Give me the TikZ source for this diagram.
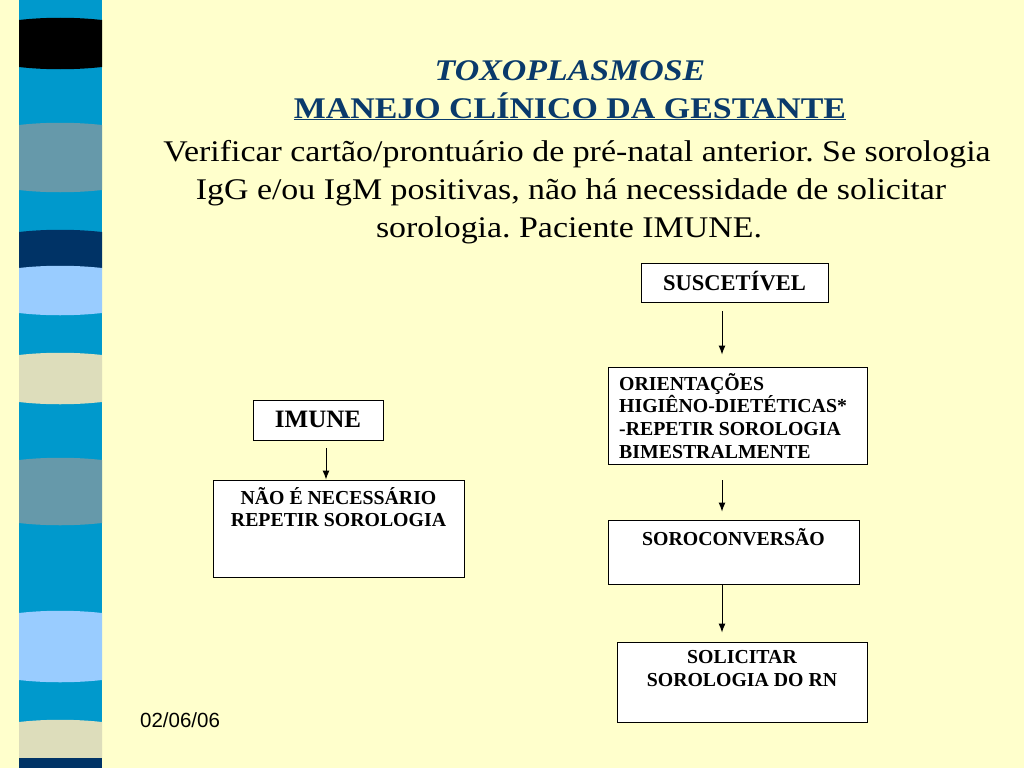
\documentclass[tikz,border=0pt]{standalone}
\usepackage{fontspec}
\setmainfont{Liberation Serif}
\newfontfamily\widefont[FakeStretch=1.13]{Liberation Serif}
\newfontfamily\datefont{Liberation Sans}
\usetikzlibrary{arrows.meta}
\frenchspacing
\definecolor{bgyellow}{HTML}{FFFFCC}
\definecolor{stripeblue}{HTML}{0099CC}
\definecolor{stripegray}{HTML}{6699AA}
\definecolor{stripenavy}{HTML}{003366}
\definecolor{stripelight}{HTML}{99CCFF}
\definecolor{stripebeige}{HTML}{DDDDBB}
\definecolor{titlenavy}{HTML}{0A3A6B}
\tikzset{
  boxnode/.style={draw=black, line width=0.9pt, fill=white, inner sep=0pt},
  boxtext/.style={font=\fontsize{19.8}{22.7}\selectfont\bfseries, inner sep=0pt, anchor=north},
  arr/.style={-{Latex[length=9pt,width=7pt]}, line width=1pt},
  headline/.style={font=\widefont\fontsize{30}{38}\selectfont, anchor=base, inner sep=0pt},
}
\newcommand{\band}[3]{% top, bottom, colour
  \fill[#3] (19,#1) .. controls (45,#1-3) and (75,#1-3) .. (102,#1) -- (102,#2) .. controls (75,#2+3) and (45,#2+3) .. (19,#2) -- cycle;}
\begin{document}
\begin{tikzpicture}[x=1pt,y=-1pt]
\useasboundingbox (0,0) rectangle (1024,768);
\fill[bgyellow] (0,0) rectangle (1024,768);
% stripe
\fill[stripeblue] (19,0) rectangle (102,768);
\band{20}{67}{black}
\band{125}{190}{stripegray}
\band{232}{268}{stripenavy}
\band{268}{313}{stripelight}
\band{355}{402}{stripebeige}
\band{460}{523}{stripegray}
\band{613}{680}{stripelight}
\band{722}{758}{stripebeige}
\fill[stripenavy] (19,758) rectangle (102,768);
% headings
\node[headline, font=\widefont\fontsize{30}{38}\selectfont\bfseries\itshape, text=titlenavy] (t1) at (570,80) {TOXOPLASMOSE};
\node[headline, font=\widefont\fontsize{30}{38}\selectfont\bfseries, text=titlenavy] (t2) at (570,118) {\underline{MANEJO CLÍNICO DA GESTANTE}};
\node[headline] (l1) at (577,161) {Verificar cartão/prontuário de pré-natal anterior. Se sorologia};
\node[headline] (l2) at (571,199) {IgG e/ou IgM positivas, não há necessidade de solicitar};
\node[headline] (l3) at (569,237) {sorologia. Paciente IMUNE.};
% boxes
\node[boxnode, minimum width=187pt, minimum height=39pt] (susc) at (734.5,282.5) {};
\node[boxtext, font=\fontsize{22.5}{25}\selectfont\bfseries] (susct) at (734.5,271) {SUSCETÍVEL};
\node[boxnode, minimum width=259pt, minimum height=97pt] (orient) at (737.5,415.5) {};
\node[boxtext, align=left, anchor=north west] (orientt) at (619,373) {ORIENTAÇÕES\\HIGIÊNO-DIETÉTICAS*\\-REPETIR SOROLOGIA\\BIMESTRALMENTE};
\node[boxnode, minimum width=130pt, minimum height=40pt] (imune) at (318,420) {};
\node[boxtext, font=\fontsize{25}{28}\selectfont\bfseries] (imunet) at (318,411) {IMUNE};
\node[boxnode, minimum width=251pt, minimum height=97pt] (nao) at (338.5,528.5) {};
\node[boxtext, align=center] (naot) at (338.5,487) {NÃO É NECESSÁRIO\\REPETIR SOROLOGIA};
\node[boxnode, minimum width=251pt, minimum height=64pt] (soro) at (733.5,552) {};
\node[boxtext] (sorot) at (733.5,528) {SOROCONVERSÃO};
\node[boxnode, minimum width=250pt, minimum height=80pt] (solic) at (742,682) {};
\node[boxtext, align=center] (solict) at (742,650) {SOLICITAR\\SOROLOGIA DO RN};
% arrows
\coordinate (ax) at (722,0);
\coordinate (bx) at (326,0);
\draw[arr, shorten <=9pt, shorten >=12pt] (susc.south -| ax) -- (orient.north -| ax);
\draw[arr, shorten <=16pt, shorten >=8pt] (orient.south -| ax) -- (soro.north -| ax);
\draw[arr, shorten <=8pt, shorten >=0pt] (imune.south -| bx) -- (nao.north -| bx);
\draw[arr, shorten <=0pt, shorten >=9pt] (soro.south -| ax) -- (solic.north -| ax);
% date
\node[anchor=base west, inner sep=0pt, font=\datefont\fontsize{20.5}{22}\selectfont] (date) at (140,727) {02/06/06};
\end{tikzpicture}
\end{document}
